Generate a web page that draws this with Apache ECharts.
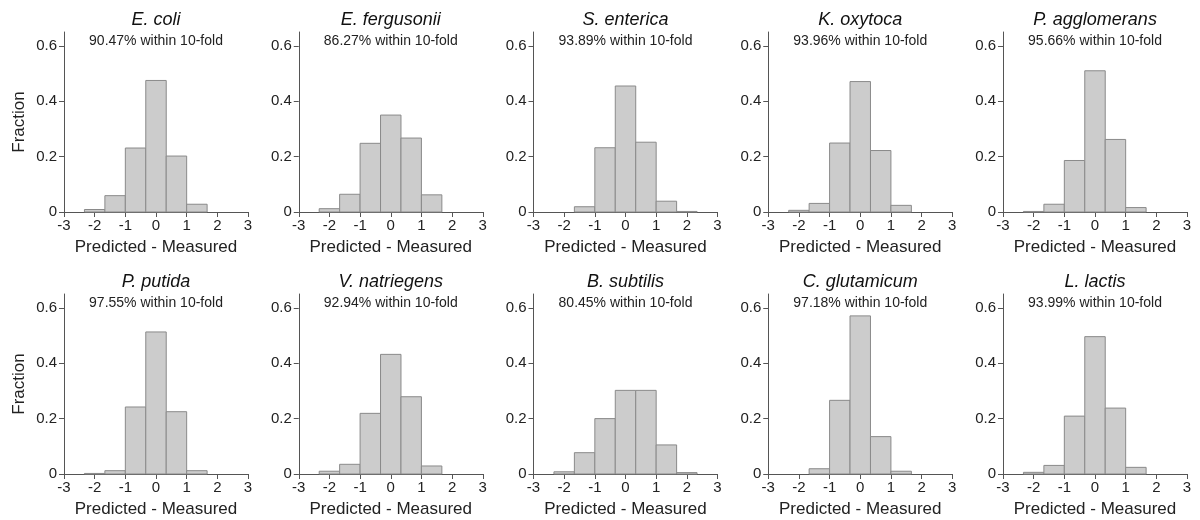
<!DOCTYPE html>
<html><head><meta charset="utf-8">
<script src="https://cdn.jsdelivr.net/npm/echarts@6/dist/echarts.min.js"></script>
<style>html,body{margin:0;padding:0;background:#fff}#c{width:1200px;height:520px}</style>
</head><body><div id="c"></div>
<script>
const species = ['E. coli','E. fergusonii','S. enterica','K. oxytoca','P. agglomerans',
                 'P. putida','V. natriegens','B. subtilis','C. glutamicum','L. lactis'];
const withinTenFold = ['90.47%','86.27%','93.89%','93.96%','95.66%',
                       '97.55%','92.94%','80.45%','97.18%','93.99%'];
const binWidth = 2/3;
const binCenters = [-2, -4/3, -2/3, 0, 2/3, 4/3, 2];
const fractions = [
  [0.009, 0.059, 0.231, 0.475, 0.202, 0.028, 0],
  [0.012, 0.064, 0.248, 0.350, 0.267, 0.062, 0],
  [0, 0.019, 0.232, 0.455, 0.252, 0.039, 0.002],
  [0.006, 0.031, 0.249, 0.471, 0.222, 0.024, 0],
  [0.002, 0.028, 0.186, 0.510, 0.262, 0.016, 0],
  [0.002, 0.012, 0.242, 0.513, 0.225, 0.012, 0],
  [0.010, 0.035, 0.219, 0.432, 0.279, 0.029, 0],
  [0.008, 0.077, 0.200, 0.302, 0.302, 0.105, 0.005],
  [0, 0.019, 0.266, 0.571, 0.135, 0.010, 0],
  [0.006, 0.031, 0.209, 0.496, 0.238, 0.024, 0]
];
const xTicks = [-3,-2,-1,0,1,2,3];
const yTicks = [0,0.2,0.4,0.6];

const FONT = '"Liberation Sans", Arial, sans-serif';
const gridLeft0 = 64, gridStep = 234.75, gridW = 184, gridH = 180;
const rowTops = [32, 294];
const grids = [], xAxes = [], yAxes = [], series = [], graphics = [];
species.forEach((name, i) => {
  const col = i % 5, row = Math.floor(i / 5);
  const left = gridLeft0 + col * gridStep, top = rowTops[row];
  grids.push({left: left, top: top, width: gridW, height: gridH, containLabel: false});
  xAxes.push({
    type: 'value', gridIndex: i, min: -3, max: 3, interval: 1,
    name: 'Predicted - Measured', nameLocation: 'middle', nameGap: 27,
    nameTextStyle: {fontSize: 17, color: '#222', fontFamily: FONT},
    axisLine: {show: true, onZero: false, lineStyle: {color: '#555', width: 1}},
    axisTick: {show: true, length: 5, lineStyle: {color: '#555'}, customValues: xTicks},
    axisLabel: {fontSize: 15, color: '#222', fontFamily: FONT, margin: 6, customValues: xTicks},
    splitLine: {show: false}
  });
  yAxes.push({
    type: 'value', gridIndex: i, min: 0, max: 0.65, interval: 0.2,
    name: col === 0 ? 'Fraction' : '', nameLocation: 'middle', nameGap: 36,
    nameTextStyle: {fontSize: 17, color: '#222', fontFamily: FONT},
    axisLine: {show: true, onZero: false, lineStyle: {color: '#555', width: 1}},
    axisTick: {show: true, length: 5, lineStyle: {color: '#555'}, customValues: yTicks},
    axisLabel: {fontSize: 15, color: '#222', fontFamily: FONT, margin: 7, customValues: yTicks,
      formatter: v => (v === 0 ? '0' : String(+v.toFixed(1)))},
    splitLine: {show: false}
  });
  series.push({
    type: 'custom', xAxisIndex: i, yAxisIndex: i,
    data: binCenters.map((c, k) => [c, fractions[i][k]]),
    encode: {x: 0, y: 1},
    renderItem: (params, api) => {
      const c = api.value(0), v = api.value(1);
      if (!(v > 0)) return null;
      const p0 = api.coord([c - binWidth / 2, 0]);
      const p1 = api.coord([c + binWidth / 2, v]);
      return {type: 'rect',
        shape: {x: p0[0], y: p1[1], width: p1[0] - p0[0], height: p0[1] - p1[1]},
        style: {fill: '#cccccc', stroke: '#8a8a8a', lineWidth: 1}};
    },
    silent: true
  });
  graphics.push({type: 'text', x: left + gridW / 2, y: top - 12,
    style: {text: name, fill: '#111', font: 'italic 18px ' + FONT, align: 'center', verticalAlign: 'middle'}});
  graphics.push({type: 'text', x: left + gridW / 2, y: top + 9,
    style: {text: withinTenFold[i] + ' within 10-fold', fill: '#222', font: '14px ' + FONT, align: 'center', verticalAlign: 'middle'}});
});
const chart = echarts.init(document.getElementById('c'), null, {renderer: 'canvas'});
chart.setOption({
  animation: false, backgroundColor: '#fff',
  grid: grids, xAxis: xAxes, yAxis: yAxes, series: series, graphic: graphics
});
</script></body></html>
